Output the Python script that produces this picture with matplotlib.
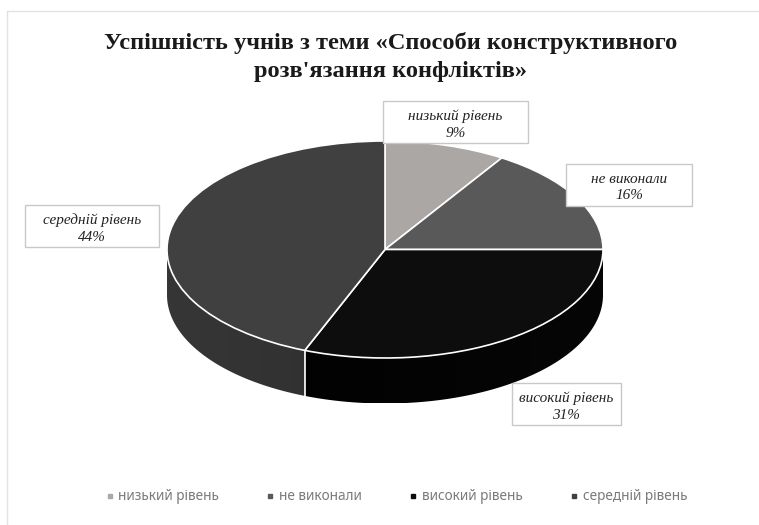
import numpy as np
import matplotlib
matplotlib.use('Agg')
import matplotlib.pyplot as plt
from matplotlib.colors import LinearSegmentedColormap
from matplotlib.patches import Polygon, Rectangle

categories = ['низький рівень', 'не виконали', 'високий рівень', 'середній рівень']
values = [9, 16, 31, 44]
colors = ['#aaa7a5', '#595959', '#0d0d0d', '#404040']
side_left = ['#aaa7a5', '#595959', '#000000', '#363636']
side_right = ['#aaa7a5', '#595959', '#060606', '#282828']
# label boxes in pixels: left, top, right, bottom
label_boxes = [(383, 101, 528, 143), (566, 164, 692, 206), (512, 383, 621, 425), (25, 205, 159, 247)]
title = 'Успішність учнів з теми «Способи конструктивного\nрозв\'язання конфліктів»'

W, H = 759, 525
cx, cy, rx, ry, depth = 385, 249.5, 218, 108.5, 45.5

fig = plt.figure(figsize=(W / 100, H / 100), dpi=100)
ax = fig.add_axes([0, 0, 1, 1])

# 1 data unit = rx px across, ry px down, so the pie comes out squashed
wedges, _ = ax.pie(values, colors=colors, startangle=90, counterclock=False,
                   wedgeprops={'edgecolor': 'white', 'linewidth': 1.2, 'zorder': 3})
ax.set_aspect('auto')
xlim = (-cx / rx, (W - cx) / rx)
ylim = (-(H - cy) / ry, cy / ry)
d = depth / ry

# side of the disc, one clipped gradient per slice
bounds = 90 - np.cumsum([0] + values) * 3.6
for i in range(len(values)):
    a1, a0 = bounds[i], bounds[i + 1]
    lo, hi = max(a0, -180), min(a1, 0)
    if hi <= lo:
        continue
    t = np.radians(np.linspace(lo, hi, 120))
    x, y = np.cos(t), np.sin(t)
    poly = Polygon(np.c_[np.r_[x, x[::-1]], np.r_[y, y[::-1] - d]], closed=True, fc='none', ec='none',
                   transform=ax.transData)
    ax.add_patch(poly)
    cmap = LinearSegmentedColormap.from_list('side', [side_left[i], side_right[i]])
    im = ax.imshow(np.linspace(0, 1, 256).reshape(1, -1), cmap=cmap, aspect='auto',
                   extent=(-1, 1, -1 - d, 1), zorder=1)
    im.set_clip_path(poly)
    # white seam where two slices meet on the side
    if -180 < a0 < 0:
        r = np.radians(a0)
        ax.plot([np.cos(r)] * 2, [np.sin(r), np.sin(r) - d], color='white', lw=1.2, zorder=2)

ax.set_xlim(*xlim)
ax.set_ylim(*ylim)
ax.set_axis_off()

fig.text(391 / W, 1 - 57 / H, title, ha='center', va='center', fontsize=17.6, fontweight='bold',
         family='Liberation Serif', color='#1a1a1a', linespacing=1.46)

for name, val, (x0, y0, x1, y1) in zip(categories, values, label_boxes):
    fig.add_artist(Rectangle((x0 / W, 1 - y1 / H), (x1 - x0) / W, (y1 - y0) / H, transform=fig.transFigure,
                             fc='white', ec='#c8c8c8', lw=1, zorder=4))
    fig.text((x0 + x1) / 2 / W, 1 - ((y0 + y1) / 2 + 2.5) / H, f'{name}\n{val}%', ha='center', va='center',
             fontsize=11, style='italic', family='Liberation Serif', color='#222222', linespacing=1.36, zorder=5)

handles = [plt.Line2D([], [], ls='', marker='s', ms=3.5, color=c) for c in colors]
fig.legend(handles, categories, loc='center', bbox_to_anchor=(396 / W, 1 - 497 / H), ncol=4,
           frameon=False, labelcolor='#7a7a7a', handlelength=0.7, handletextpad=0.3,
           columnspacing=3.4, prop={'family': 'Noto Sans', 'size': 9.8})

# chart frame, only top and left are inside the crop
fig.add_artist(plt.Line2D([7 / W, 7 / W, 1], [0, 1 - 11 / H, 1 - 11 / H], color='#e2e2e2', lw=1))
fig.savefig('out.png', dpi=100)
